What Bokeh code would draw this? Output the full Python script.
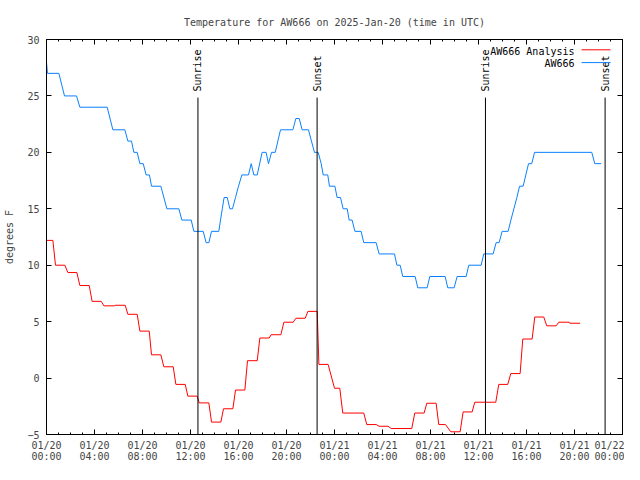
import math
from bokeh.plotting import figure
from bokeh.models import (FixedTicker, LinearAxis, Range1d, Label, Arrow,
                          CustomJSTickFormatter, ColumnDataSource)
from bokeh.core.properties import value
from bokeh.embed import file_html
from bokeh.resources import INLINE

# ---- data (hours since 2025-01-20 00:00 UTC, degrees F) ----
station_hours = [0.0, 0.08, 1.03, 1.5, 2.5, 2.78, 5.06, 5.53, 6.53, 6.78, 7.08, 7.28, 7.56, 7.78,
                 8.06, 8.3, 8.58, 8.75, 9.53, 10.03, 11.03, 11.28, 12.06, 12.28, 13.06, 13.3,
                 13.53, 13.75, 14.36, 14.5, 14.65, 14.8, 15.06, 15.28, 15.5, 15.75, 16.0, 16.28,
                 16.83, 17.06, 17.28, 17.56, 17.97, 18.3, 18.5, 18.75, 19.06, 19.28, 19.5, 20.53,
                 20.78, 21.06, 21.3, 21.83, 22.08, 22.33, 22.64, 22.89, 23.06, 23.44, 23.58, 24.03,
                 24.22, 24.5, 24.72, 25.06, 25.22, 25.47, 25.7, 26.22, 26.44, 27.47, 27.72, 29.0,
                 29.2, 29.47, 29.69, 30.72, 30.94, 31.72, 31.94, 33.22, 33.44, 33.97, 34.22, 34.97,
                 35.19, 36.22, 36.44, 37.22, 37.47, 37.72, 37.97, 38.47, 38.7, 38.95, 39.2, 39.42,
                 39.72, 40.17, 40.44, 40.67, 45.44, 45.69, 46.22]
station_temp = [28, 27, 27, 25, 25, 24, 24, 22, 22, 21, 21, 20, 20, 19,
                19, 18, 18, 17, 17, 15, 15, 14, 14, 13, 13, 12,
                12, 13, 13, 14, 15, 16, 16, 15, 15, 16, 17, 18,
                18, 19, 18, 18, 20, 20, 19, 20, 20, 21, 22, 22,
                23, 23, 22, 22, 21, 20, 20, 19, 18, 18, 17, 17,
                16, 16, 15, 15, 14, 14, 13, 13, 12, 12, 11, 11,
                10, 10, 9, 9, 8, 8, 9, 9, 8, 8, 9, 9,
                10, 10, 11, 11, 12, 12, 13, 13, 14, 15, 16, 17,
                17, 19, 19, 20, 20, 19, 19]

analysis_hours = [0.0, 0.53, 0.75, 1.53, 1.78, 2.53, 2.78, 3.56, 3.8, 4.56, 4.78, 5.67, 5.7, 6.56,
                  6.78, 7.56, 7.78, 8.56, 8.75, 9.53, 9.78, 10.56, 10.78, 11.56, 11.78, 12.56,
                  12.72, 13.53, 13.75, 14.53, 14.75, 15.53, 15.75, 16.53, 16.75, 17.56, 17.78,
                  18.56, 18.72, 19.53, 19.78, 20.56, 20.78, 21.56, 21.78, 22.56, 22.58, 22.7,
                  23.47, 24.0, 24.44, 24.69, 26.44, 26.69, 27.47, 27.72, 28.47, 28.72, 30.44,
                  30.69, 31.47, 31.69, 32.47, 32.69, 33.25, 33.69, 34.47, 34.72, 35.47, 35.69,
                  37.44, 37.69, 38.44, 38.69, 39.47, 39.69, 40.47, 40.69, 41.44, 41.69, 42.47,
                  42.69, 43.56, 43.6, 44.47]
analysis_temp = [12.2, 12.2, 10.0, 10.0, 9.35, 9.35, 8.2, 8.2, 6.8, 6.8, 6.4, 6.4, 6.45, 6.45,
                 5.65, 5.65, 4.16, 4.16, 2.06, 2.06, 1.0, 1.0, -0.56, -0.56, -1.6, -1.6,
                 -2.2, -2.2, -3.9, -3.9, -2.72, -2.72, -1.06, -1.06, 1.54, 1.54, 3.55,
                 3.55, 3.84, 3.84, 4.95, 4.95, 5.3, 5.3, 5.91, 5.91, 5.2, 1.21,
                 1.21, -0.9, -0.9, -3.1, -3.1, -4.12, -4.12, -4.27, -4.27, -4.47, -4.47,
                 -3.1, -3.1, -2.23, -2.23, -4.12, -4.12, -4.76, -4.76, -3.0, -3.0, -2.14,
                 -2.14, -0.56, -0.56, 0.4, 0.4, 3.46, 3.46, 5.41, 5.41, 4.63, 4.63,
                 4.95, 4.95, 4.86, 4.86]

sun_hours = [12.62, 22.55, 36.58, 46.55]
sun_labels = ["Sunrise", "Sunset", "Sunrise", "Sunset"]
sun_line_top = 24.85

x_ticks = list(range(0, 49, 4))
x_tick_labels = ["01/20\n00:00", "01/20\n04:00", "01/20\n08:00", "01/20\n12:00",
                 "01/20\n16:00", "01/20\n20:00", "01/21\n00:00", "01/21\n04:00",
                 "01/21\n08:00", "01/21\n12:00", "01/21\n16:00", "01/21\n20:00",
                 "01/22\n00:00"]
y_ticks = [-5, 0, 5, 10, 15, 20, 25, 30]

FONT = "DejaVu Sans Mono"
FS = "10px"
RED = "#ff0000"
BLUE = "#0a80ff"

p = figure(width=624, height=464, output_backend="svg", toolbar_location=None,
           x_range=Range1d(0, 48), y_range=Range1d(-5, 30),
           min_border_left=46, min_border_right=2, min_border_top=39, min_border_bottom=26,
           background_fill_color="white", border_fill_color="white")
p.grid.visible = False
p.outline_line_color = "black"
p.outline_line_width = 1

p.title.text = "Temperature for AW666 on 2025-Jan-20 (time in UTC)"
p.title.text_font = FONT
p.title.text_font_size = FS
p.title.text_font_style = "normal"
p.title.align = "center"
p.title.standoff = 24

xt = FixedTicker(ticks=x_ticks, minor_ticks=list(range(0, 49)))
yt = FixedTicker(ticks=y_ticks, minor_ticks=[])

def style_axis(ax):
    ax.axis_line_color = "black"
    ax.major_tick_line_color = "black"
    ax.minor_tick_line_color = "black"
    ax.major_tick_in = 5
    ax.major_tick_out = 0
    ax.minor_tick_in = 2
    ax.minor_tick_out = 0
    ax.major_label_text_font = FONT
    ax.major_label_text_font_size = FS
    ax.axis_label_text_font = FONT
    ax.axis_label_text_font_size = FS
    ax.axis_label_text_font_style = "normal"

xa = p.xaxis[0]
xa.ticker = xt
xa.major_label_overrides = {t: lab for t, lab in zip(x_ticks, x_tick_labels)}
xa.major_label_standoff = 5
style_axis(xa)
xa.major_label_text_line_height = 1.0

ya = p.yaxis[0]
ya.ticker = yt
ya.axis_label = "degrees F"
ya.major_label_standoff = 7
ya.axis_label_standoff = 9
style_axis(ya)

blank = CustomJSTickFormatter(code="return ''")
top = LinearAxis(ticker=xt, formatter=blank, major_label_standoff=0)
right = LinearAxis(ticker=yt, formatter=blank, major_label_standoff=0)
style_axis(top)
style_axis(right)
top.major_label_text_font_size = "0px"
right.major_label_text_font_size = "0px"
p.add_layout(top, "above")
p.add_layout(right, "right")

# data lines
p.line(station_hours, station_temp, line_color=BLUE, line_width=1)
p.line(analysis_hours, analysis_temp, line_color=RED, line_width=1)

# sunrise / sunset markers
sun_src = ColumnDataSource(dict(x=sun_hours, y0=[-5] * len(sun_hours),
                                y1=[sun_line_top] * len(sun_hours), label=sun_labels))
p.segment(x0="x", y0="y0", x1="x", y1="y1", source=sun_src, line_color="black", line_width=1)
p.text(x="x", y="y1", text="label", source=sun_src, angle=math.pi / 2,
       text_align="left", text_baseline="middle", y_offset=-6,
       text_font=value(FONT), text_font_size=value(FS), text_color="black")

# legend (top right, label right-aligned, sample line on the right)
legend_items = [("AW666 Analysis", RED), ("AW666", BLUE)]
for i, (lab, col) in enumerate(legend_items):
    ys = 383.5 - 12.8 * i
    p.add_layout(Label(x=528, y=ys, x_units="screen", y_units="screen", text=lab,
                       text_align="right", text_baseline="middle",
                       text_font=FONT, text_font_size=FS, text_color="black"))
    p.add_layout(Arrow(x_start=535, y_start=ys + 1.2, x_end=564, y_end=ys + 1.2,
                       start_units="screen", end_units="screen", start=None, end=None,
                       line_color=col, line_width=1))

open("out.html", "w").write(file_html(p, INLINE))
